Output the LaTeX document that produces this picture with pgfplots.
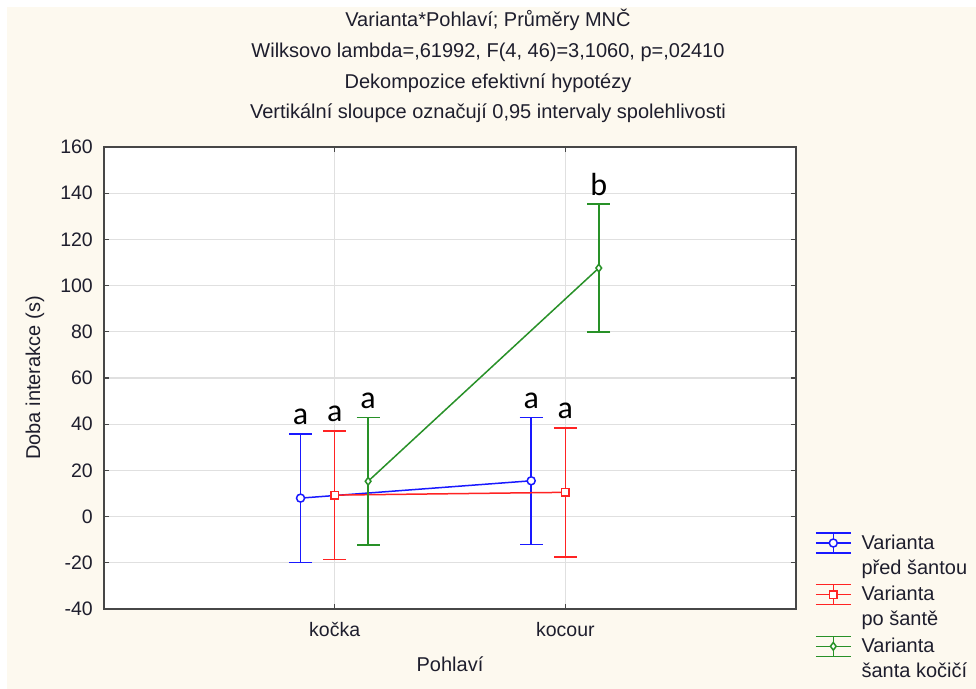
\documentclass[border=0pt]{standalone}
\usepackage{pgfplots}
\pgfplotsset{compat=1.18}
\usepackage{fontspec}
\setmainfont{Liberation Sans}
\newfontfamily\calib{Carlito}
\definecolor{bgcream}{RGB}{253,249,239}
\definecolor{sblue}{RGB}{25,25,255}
\definecolor{sred}{RGB}{255,35,35}
\definecolor{sgreen}{RGB}{40,145,40}
\definecolor{txt}{RGB}{30,30,45}
\definecolor{gridc}{RGB}{224,224,224}
\begin{document}
\begin{tikzpicture}[x=1bp,y=1bp]
\fill[white] (0,0) rectangle (976,689);
\fill[bgcream] (7,0) rectangle (976,682);
\begin{scope}[every node/.style={anchor=base, font=\fontsize{20bp}{24bp}\selectfont, text=txt, inner sep=0pt}]
\node at (488,662) {Varianta*Pohlaví; Průměry MNČ};
\node at (488,631.3) {Wilksovo lambda=,61992, F(4, 46)=3,1060, p=,02410};
\node at (488,600.6) {Dekompozice efektivní hypotézy};
\node at (488,570) {Vertikální sloupce označují 0,95 intervaly spolehlivosti};
\end{scope}
\begin{axis}[
  at={(104bp,80bp)}, anchor=south west,
  width=692bp, height=462bp, scale only axis,
  xmin=-1, xmax=2, ymin=-40, ymax=160,
  xtick={0,1}, xticklabels={kočka,kocour},
  ytick={-40,-20,...,160},
  grid=major, grid style={draw=gridc, line width=1.2bp},
  axis line style={draw=black!72, line width=1.6bp},
  tick style={draw=black!72, line width=1.2bp},
  tick align=inside, major tick length=5bp,
  axis background/.style={fill=white},
  ticklabel style={font=\fontsize{19.5bp}{23bp}\selectfont, text=txt, inner sep=0pt},
  /pgf/number format/assume math mode=true,
  xticklabel style={anchor=base, yshift=-28bp},
  yticklabel style={anchor=east, xshift=-11bp},
  xlabel={Pohlaví}, ylabel={Doba interakce (s)},
  label style={font=\fontsize{20bp}{24bp}\selectfont, text=txt, inner sep=0pt},
  xlabel style={at={(0.5,0)}, anchor=base, yshift=-63bp},
  ylabel style={at={(-0.0997,0.5)}, anchor=center},
  error bars/y dir=both, error bars/y explicit,
  error bars/error mark=|,
  error bars/error bar style={line width=1.5bp},
  error bars/error mark options={mark size=11.5bp, line width=1.5bp},
  legend image code/.code={
    \draw[#1, mark=none, line width=1.5bp] (0bp,6bp) -- (35bp,6bp) (0bp,16bp) -- (35bp,16bp) (0bp,-4bp) -- (35bp,-4bp) (17.5bp,-4bp) -- (17.5bp,16bp);
    \draw[#1, line width=1.5bp] plot coordinates {(17.5bp,6bp)};
  },
  legend style={draw=none, fill=none, inner sep=0pt, outer sep=0pt,
    at={(1.0275,0.1677)}, anchor=north west,
    font=\fontsize{20bp}{25bp}\selectfont, text=txt,
    nodes={inner sep=0pt, anchor=base west}, column sep=10bp, row sep=29.4bp},
  legend cell align=left,
]
\addplot[sblue, line width=1.5bp, mark=*, mark size=4bp, mark options={fill=white, line width=1.5bp}]
  coordinates {(-0.148,8.0) +- (0,27.8) (0.852,15.5) +- (0,27.5)};
\addlegendentry{\begin{tabular}[t]{@{}l@{}}Varianta\\před šantou\end{tabular}}
\addplot[sred, line width=1.5bp, mark=square*, mark size=3.8bp, mark options={fill=white, line width=1.5bp}]
  coordinates {(0,9.3) +- (0,27.8) (1,10.5) +- (0,27.9)};
\addlegendentry{\begin{tabular}[t]{@{}l@{}}Varianta\\po šantě\end{tabular}}
\addplot[sgreen, line width=1.5bp, mark=diamond*, mark size=3.8bp, mark options={fill=white, line width=1.5bp}]
  coordinates {(0.145,15.3) +- (0,27.6) (1.145,107.6) +- (0,27.7)};
\addlegendentry{\begin{tabular}[t]{@{}l@{}}Varianta\\šanta kočičí\end{tabular}}
\begin{scope}[every node/.style={anchor=base, font=\calib\fontsize{32bp}{32bp}\selectfont, inner sep=0pt, yshift=9bp}]
\node at (axis cs:-0.148,35.8) {a};
\node at (axis cs:0,37.1) {a};
\node at (axis cs:0.145,42.9) {a};
\node at (axis cs:0.852,43.0) {a};
\node at (axis cs:1,38.4) {a};
\node at (axis cs:1.145,135.3) {b};
\end{scope}
\end{axis}
\end{tikzpicture}
\end{document}
